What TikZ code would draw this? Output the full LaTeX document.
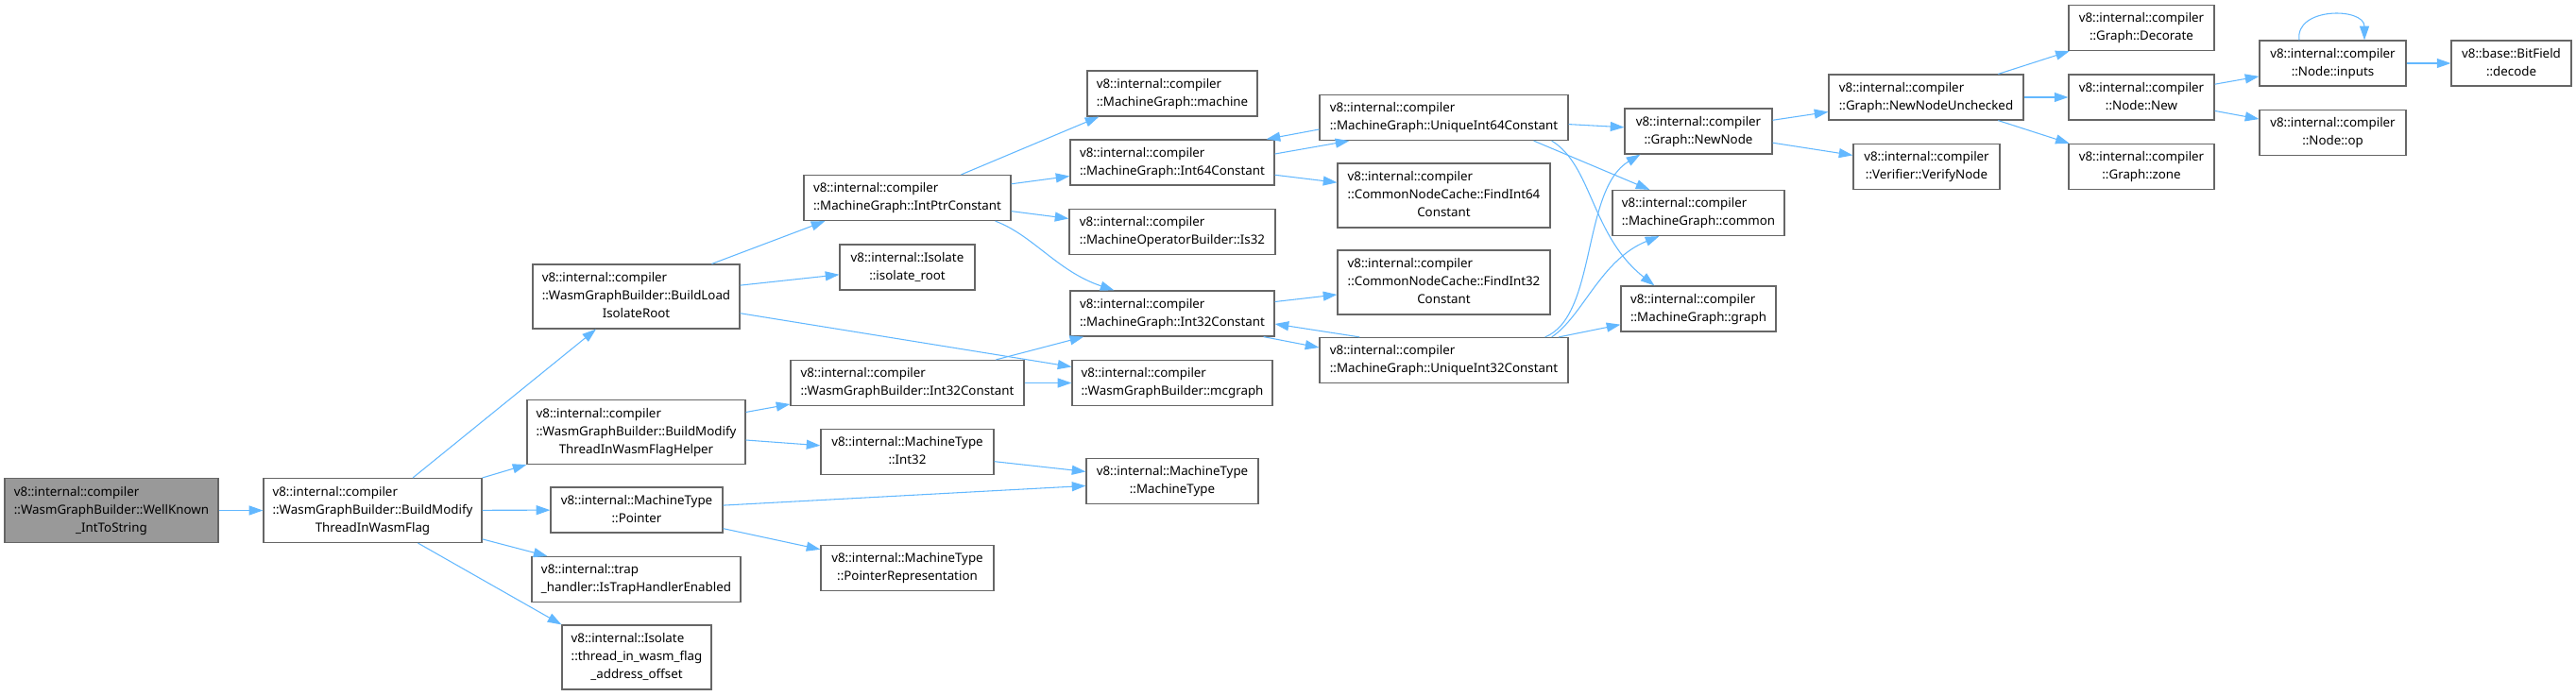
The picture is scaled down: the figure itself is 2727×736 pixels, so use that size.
\documentclass[tikz,border=0pt]{standalone}
\usepackage{fontspec}
\setmainfont{Noto Sans}
\usepackage{xcolor}
\definecolor{cEdge}{HTML}{63B8FF}
\definecolor{cBorder}{HTML}{666666}
\definecolor{cRoot}{HTML}{999999}
\usetikzlibrary{arrows.meta,calc}
% first lines flush left, last line centred (as doxygen prints them)
\newcommand{\fnlbl}[2]{\begin{tabular}{@{}l@{}}#1\\\multicolumn{1}{@{}c@{}}{#2}\end{tabular}}
\tikzset{
  fn-box/.style={draw=cBorder,line width=0.9pt,fill=white,inner sep=0pt,
    font=\fontsize{10}{14.25}\selectfont},
  fn-two/.style={fn-box,minimum height=36pt},
  fn-three/.style={fn-box,minimum height=51pt},
  fn-root/.style={fill=cRoot},
  call/.style={-{Triangle[length=11pt,width=7.5pt]},line width=0.8pt,draw=cEdge},
}

\begin{document}
\begin{tikzpicture}[x=0.75pt,y=-0.75pt]
  \useasboundingbox (0,0) rectangle (2727,736);
  % column 1-2
  \node[fn-three,fn-root,minimum width=169.5pt] (wellknown) at (118,540.5)
    {\fnlbl{v8::internal::compiler\\::WasmGraphBuilder::WellKnown}{\_IntToString}};
  \node[fn-three,minimum width=173.25pt] (modflag) at (394.5,540.5)
    {\fnlbl{v8::internal::compiler\\::WasmGraphBuilder::BuildModify}{ThreadInWasmFlag}};
  % column 3
  \node[fn-three,minimum width=164.25pt] (loadroot) at (673.5,314)
    {\fnlbl{v8::internal::compiler\\::WasmGraphBuilder::BuildLoad}{IsolateRoot}};
  \node[fn-three,minimum width=173.25pt] (flaghelper) at (673.5,457.5)
    {\fnlbl{v8::internal::compiler\\::WasmGraphBuilder::BuildModify}{ThreadInWasmFlagHelper}};
  \node[fn-two,minimum width=136.5pt] (mtpointer) at (674,540)
    {\fnlbl{v8::internal::MachineType}{::Pointer}};
  \node[fn-two,minimum width=165.75pt] (traphandler) at (673.5,613.5)
    {\fnlbl{v8::internal::trap}{\_handler::IsTrapHandlerEnabled}};
  \node[fn-three,minimum width=118.5pt] (threadflag) at (674,696)
    {\fnlbl{v8::internal::Isolate\\::thread\_in\_wasm\_flag}{\_address\_offset}};
  % column 4
  \node[fn-two,minimum width=164.25pt] (ipc) at (960.5,209.5)
    {\fnlbl{v8::internal::compiler}{::MachineGraph::IntPtrConstant}};
  \node[fn-two,minimum width=107.25pt] (isoroot) at (960.5,283)
    {\fnlbl{v8::internal::Isolate}{::isolate\_root}};
  \node[fn-two,minimum width=185.25pt] (wasmi32) at (960.5,405.5)
    {\fnlbl{v8::internal::compiler}{::WasmGraphBuilder::Int32Constant}};
  \node[fn-two,minimum width=137.25pt] (mtint32) at (960.5,478.5)
    {\fnlbl{v8::internal::MachineType}{::Int32}};
  \node[fn-two,minimum width=137.25pt] (ptrrep) at (960.5,601.5)
    {\fnlbl{v8::internal::MachineType}{::PointerRepresentation}};
  % column 5
  \node[fn-two,minimum width=135pt] (machine) at (1241,99)
    {\fnlbl{v8::internal::compiler}{::MachineGraph::machine}};
  \node[fn-two,minimum width=162pt] (i64) at (1241,172)
    {\fnlbl{v8::internal::compiler}{::MachineGraph::Int64Constant}};
  \node[fn-two,minimum width=163.5pt] (is32) at (1241,245.5)
    {\fnlbl{v8::internal::compiler}{::MachineOperatorBuilder::Is32}};
  \node[fn-two,minimum width=162pt] (i32) at (1241,332)
    {\fnlbl{v8::internal::compiler}{::MachineGraph::Int32Constant}};
  \node[fn-two,minimum width=159pt] (mcgraph) at (1241,405.5)
    {\fnlbl{v8::internal::compiler}{::WasmGraphBuilder::mcgraph}};
  \node[fn-two,minimum width=136.5pt] (mtype) at (1241,509.5)
    {\fnlbl{v8::internal::MachineType}{::MachineType}};
  % column 6
  \node[fn-two,minimum width=197.25pt] (ui64) at (1528.5,124.5)
    {\fnlbl{v8::internal::compiler}{::MachineGraph::UniqueInt64Constant}};
  \node[fn-three,minimum width=168.75pt] (find64) at (1528.5,207)
    {\fnlbl{v8::internal::compiler\\::CommonNodeCache::FindInt64}{Constant}};
  \node[fn-three,minimum width=168.75pt] (find32) at (1528.5,299)
    {\fnlbl{v8::internal::compiler\\::CommonNodeCache::FindInt32}{Constant}};
  \node[fn-two,minimum width=197.25pt] (ui32) at (1528.5,381.5)
    {\fnlbl{v8::internal::compiler}{::MachineGraph::UniqueInt32Constant}};
  % column 7
  \node[fn-two,minimum width=117pt] (nn) at (1798,139)
    {\fnlbl{v8::internal::compiler}{::Graph::NewNode}};
  \node[fn-two,minimum width=136.5pt] (mgcommon) at (1798,225.5)
    {\fnlbl{v8::internal::compiler}{::MachineGraph::common}};
  \node[fn-two,minimum width=123pt] (mggraph) at (1798,327)
    {\fnlbl{v8::internal::compiler}{::MachineGraph::graph}};
  % column 8-10
  \node[fn-two,minimum width=154.5pt] (nnu) at (2039,103)
    {\fnlbl{v8::internal::compiler}{::Graph::NewNodeUnchecked}};
  \node[fn-two,minimum width=116.25pt] (verify) at (2039.5,176.5)
    {\fnlbl{v8::internal::compiler}{::Verifier::VerifyNode}};
  \node[fn-two,minimum width=115.5pt] (decorate) at (2267,29.5)
    {\fnlbl{v8::internal::compiler}{::Graph::Decorate}};
  \node[fn-two,minimum width=115.5pt] (nodenew) at (2267,103)
    {\fnlbl{v8::internal::compiler}{::Node::New}};
  \node[fn-two,minimum width=115.5pt] (zone) at (2267,176.5)
    {\fnlbl{v8::internal::compiler}{::Graph::zone}};
  \node[fn-two,minimum width=116.25pt] (inputs) at (2469.5,67)
    {\fnlbl{v8::internal::compiler}{::Node::inputs}};
  \node[fn-two,minimum width=116.25pt] (nodeop) at (2469.5,140.5)
    {\fnlbl{v8::internal::compiler}{::Node::op}};
  \node[fn-two,minimum width=95.25pt] (bitfield) at (2658.5,67)
    {\fnlbl{v8::base::BitField}{::decode}};

  % calls
  \draw[call] (wellknown) -- (modflag);
  \draw[call] (modflag) -- (loadroot);
  \draw[call] (modflag) -- (flaghelper);
  \draw[call] (modflag) -- (mtpointer);
  \draw[call] (modflag) -- (traphandler);
  \draw[call] ($(modflag.south)+(48,0)$) -- (threadflag.north west);
  \draw[call] ($(loadroot.north)+(80,0)$) -- ($(ipc.south west)+(23,0)$);
  \draw[call] (loadroot) -- (isoroot);
  \draw[call] (loadroot) -- (mcgraph);
  \draw[call] (flaghelper) -- (wasmi32);
  \draw[call] (flaghelper) -- (mtint32);
  \draw[call] (mtpointer) -- (mtype);
  \draw[call] (mtpointer) -- (ptrrep);
  \draw[call] (mtint32) -- (mtype);
  \draw[call] ($(ipc.north)+(57,0)$) -- ($(machine.south west)+(13,0)$);
  \draw[call] (ipc) -- (i64);
  \draw[call] (ipc) -- (is32);
  \draw[call] ($(ipc.south east)+(-17,0)$) .. controls +(40,15) and +(-60,-20) .. ($(i32.north west)+(47,0)$);
  \draw[call] (wasmi32) -- (i32);
  \draw[call] (wasmi32) -- (mcgraph);
  \draw[call] ($(i64.east)+(0,-9)$) -- ($(ui64.south west)+(32,0)$);
  \draw[call] (i64) -- (find64);
  \draw[call] ($(ui64.west)+(0,12.5)$) -- ($(i64.north east)+(-9,0)$);
  \draw[call] (i32) -- (find32);
  \draw[call] ($(i32.south east)+(-12,0)$) -- ($(ui32.west)+(0,-13.5)$);
  \draw[call] ($(ui32.north west)+(43,0)$) -- ($(i32.east)+(0,11)$);
  \draw[call] (ui64) -- (nn);
  \draw[call] ($(ui64.south east)+(-37,0)$) -- ($(mgcommon.north west)+(40,0)$);
  \draw[call] ($(ui64.south east)+(-18,0)$) .. controls +(43,26) and +(-67,-53) .. ($(mggraph.north west)+(36,0)$);
  \draw[call] ($(ui32.north east)+(-25,0)$) .. controls +(55,-22) and +(-62,37) .. ($(nn.south west)+(17,0)$);
  \draw[call] ($(ui32.north east)+(-18,0)$) .. controls +(33,-22) and +(-62,25) .. ($(mgcommon.south west)+(50,0)$);
  \draw[call] (ui32) -- (mggraph);
  \draw[call] (nn) -- (nnu);
  \draw[call] (nn) -- (verify);
  \draw[call] (nnu) -- (decorate);
  \draw[call] (nnu) -- (nodenew);
  \draw[call] (nnu) -- (zone);
  \draw[call] (nodenew) -- (inputs);
  \draw[call] (nodenew) -- (nodeop);
  \draw[call] ($(inputs.north)+(-35.5,0)$) .. controls +(-5,-35) and +(0,-35) .. ($(inputs.north)+(33.5,0)$);
  \draw[call] (inputs) -- (bitfield);
\end{tikzpicture}
\end{document}
